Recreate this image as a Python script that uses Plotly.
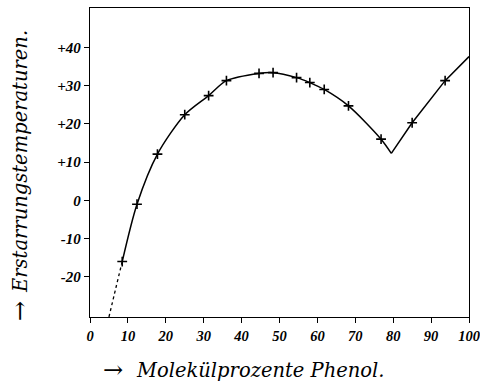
import plotly.graph_objects as go

# Measured points (Molekülprozente Phenol, Erstarrungstemperatur)
x_pts = [8.5, 12.4, 17.8, 25.0, 31.3, 36.0, 44.6, 48.3, 54.5, 58.0, 61.8, 68.2, 76.8, 85.0, 93.7]
y_pts = [-16.0, -1.0, 12.1, 22.4, 27.4, 31.3, 33.2, 33.4, 32.1, 30.8, 29.0, 24.7, 16.0, 20.3, 31.3]

# Curve branches
branch1_x = [8.5, 12.4, 17.8, 25.0, 31.3, 36.0, 44.6, 48.3, 54.5, 58.0, 61.8, 68.2, 76.8, 79.5]
branch1_y = [-16.0, -1.0, 12.1, 22.4, 27.4, 31.3, 33.2, 33.4, 32.1, 30.8, 29.0, 24.7, 16.0, 12.3]
branch2_x = [79.5, 85.0, 93.7, 100.0]
branch2_y = [12.3, 20.3, 31.3, 37.6]
dotted_x = [5.0, 6.8, 8.5]
dotted_y = [-30.5, -23.0, -16.0]

x_ticks = [0, 10, 20, 30, 40, 50, 60, 70, 80, 90, 100]
y_ticks = [-20, -10, 0, 10, 20, 30, 40]
y_tick_labels = ["-20", "-10", "0", "+10", "+20", "+30", "+40"]

fig = go.Figure()
fig.add_trace(go.Scatter(x=branch1_x, y=branch1_y, mode="lines",
                         line=dict(color="black", width=1.5, shape="spline", smoothing=0.8),
                         showlegend=False, hoverinfo="skip"))
fig.add_trace(go.Scatter(x=branch2_x, y=branch2_y, mode="lines",
                         line=dict(color="black", width=1.5),
                         showlegend=False, hoverinfo="skip"))
fig.add_trace(go.Scatter(x=dotted_x, y=dotted_y, mode="lines",
                         line=dict(color="black", width=1.3, dash="dot", shape="spline"),
                         showlegend=False, hoverinfo="skip"))
fig.add_trace(go.Scatter(x=x_pts, y=y_pts, mode="markers",
                         marker=dict(symbol="cross-thin", size=7,
                                     line=dict(color="black", width=1.6)),
                         showlegend=False))

xtickfont = dict(family="Liberation Serif", size=14.5, color="black", style="italic", weight="bold")
ytickfont = dict(family="Liberation Serif", size=15, color="black", style="italic", weight="bold")

fig.update_xaxes(range=[0, 100], tickvals=x_ticks, ticks="outside", ticklen=5,
                 tickcolor="black", showline=True, linecolor="black", linewidth=1.3,
                 mirror=True, showgrid=False, zeroline=False, tickfont=xtickfont,
                 automargin=False, ticklabeloverflow="allow")
fig.update_yaxes(range=[-30.5, 50.3], tickvals=y_ticks, ticktext=y_tick_labels,
                 ticks="outside", ticklen=5, tickcolor="black", showline=True,
                 linecolor="black", linewidth=1.3, mirror=True, showgrid=False,
                 zeroline=False, tickfont=ytickfont, automargin=False)

PW, PH, L, T = 379, 309, 90, 8


def px(xp):
    return (xp - L) / PW


def py(yp):
    return (T + PH - yp) / PH


label_font = dict(family="DejaVu Serif", size=19.5, color="black", style="italic")
arrow_font = dict(family="DejaVu Serif", size=24, color="black")

fig.add_annotation(text="Molekülprozente Phenol.", xref="paper", yref="paper",
                   x=px(260), y=py(370), showarrow=False,
                   xanchor="center", yanchor="middle", font=label_font)
fig.add_annotation(text="→", xref="paper", yref="paper",
                   x=px(113), y=py(370), showarrow=False,
                   xanchor="center", yanchor="middle", font=arrow_font)
fig.add_annotation(text="Erstarrungstemperaturen.", xref="paper", yref="paper",
                   x=px(20), y=py(162), showarrow=False, textangle=-90,
                   xanchor="center", yanchor="middle", font=label_font)
fig.add_annotation(text="→", xref="paper", yref="paper",
                   x=px(20), y=py(311), showarrow=False, textangle=-90,
                   xanchor="center", yanchor="middle", font=arrow_font)

fig.update_layout(width=480, height=385, margin=dict(l=L, r=480 - L - PW, t=T, b=385 - T - PH),
                  paper_bgcolor="white", plot_bgcolor="white")

fig.write_html("out.html", config={"displayModeBar": False},
               post_script="document.body.style.margin='0';document.body.style.padding='0';")
